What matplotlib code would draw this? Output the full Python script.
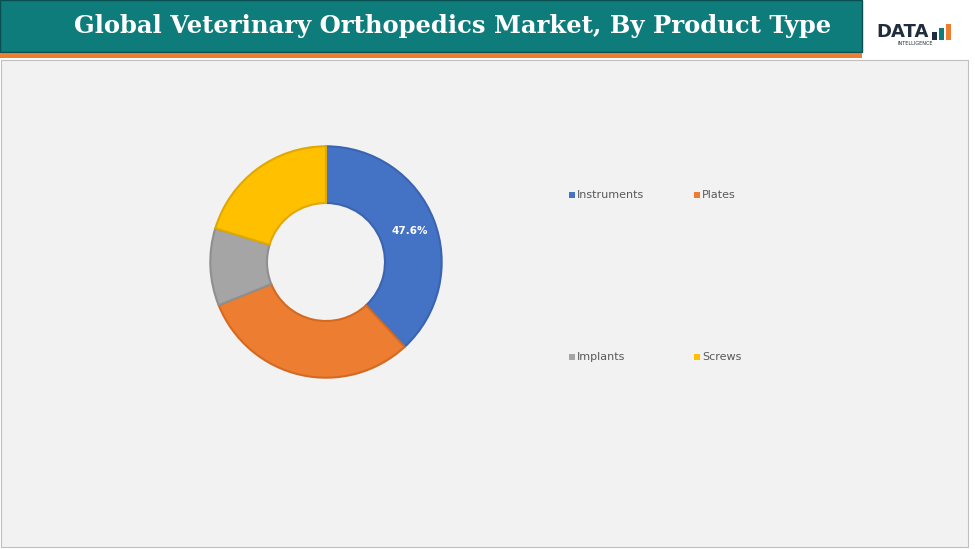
import matplotlib
matplotlib.use("Agg")
import matplotlib.pyplot as plt
from matplotlib.patches import Rectangle

categories = ["Instruments", "Plates", "Implants", "Screws"]
values = [38.1, 30.8, 10.8, 20.3]
label_text = ["47.6%", "", "", ""]
colors = ["#4472c4", "#ed7d31", "#a5a5a5", "#ffc000"]
edges = ["#3a64b0", "#d46a22", "#8f8f8f", "#e0a800"]

W, H = 975, 549
fig = plt.figure(figsize=(W/100, H/100), dpi=100)
fig.patch.set_facecolor("white")

def fx(x): return x / W
def fy(y): return 1 - y / H

# title bar
fig.patches.append(Rectangle((0, fy(52)), fx(862), 52/H, transform=fig.transFigure, facecolor="#0e7c7b", edgecolor="#0a4f4f", lw=1, zorder=-2))
fig.patches.append(Rectangle((0, fy(58)), fx(862), 5/H, transform=fig.transFigure, facecolor="#ed7d31", edgecolor="none", zorder=-2))
fig.text(fx(453), fy(26), "Global Veterinary Orthopedics Market, By Product Type", color="white",
         fontsize=17.5, fontweight="bold", family="DejaVu Serif", ha="center", va="center")
# logo
fig.text(fx(903), fy(32), "DATA", fontsize=13, fontweight="bold", color="#1f2d3d", ha="center", va="center")
fig.text(fx(915), fy(44), "INTELLIGENCE", fontsize=3.5, color="#1f2d3d", ha="center", va="center")
for i, (h, c) in enumerate([(8, "#1f2d3d"), (12, "#0e7c7b"), (16, "#ed7d31")]):
    fig.patches.append(Rectangle((fx(932 + i*7), fy(40)), fx(5), h/H, transform=fig.transFigure, facecolor=c, edgecolor="none"))

# plot area
fig.patches.append(Rectangle((fx(1), fy(547)), fx(967), 487/H, transform=fig.transFigure, facecolor="#f2f2f2", edgecolor="#bfbfbf", lw=0.8, zorder=-2))

ax = fig.add_axes([fx(326-118), fy(262+118), fx(236), 236/H])
ax.set_aspect("equal")
ax.patch.set_alpha(0)
wedges, _ = ax.pie(values, colors=colors, startangle=90, counterclock=False,
                   wedgeprops=dict(width=0.49, linewidth=1.5))
for w, e in zip(wedges, edges):
    w.set_edgecolor(e)
ax.text(0.72, 0.27, label_text[0], color="white", fontsize=7.5, fontweight="bold", ha="center", va="center")
ax.set_xlim(-1.02, 1.02); ax.set_ylim(-1.02, 1.02)
ax.axis("off")

pos = [(573, 195), (698, 195), (573, 357), (698, 357)]
for (x, y), c, n in zip(pos, colors, categories):
    fig.patches.append(Rectangle((fx(x-4), fy(y+3)), fx(6), 6/H, transform=fig.transFigure, facecolor=c, edgecolor="none"))
    fig.text(fx(x+4), fy(y), n, fontsize=8, color="#595959", ha="left", va="center")

fig.savefig("out.png", dpi=100)
